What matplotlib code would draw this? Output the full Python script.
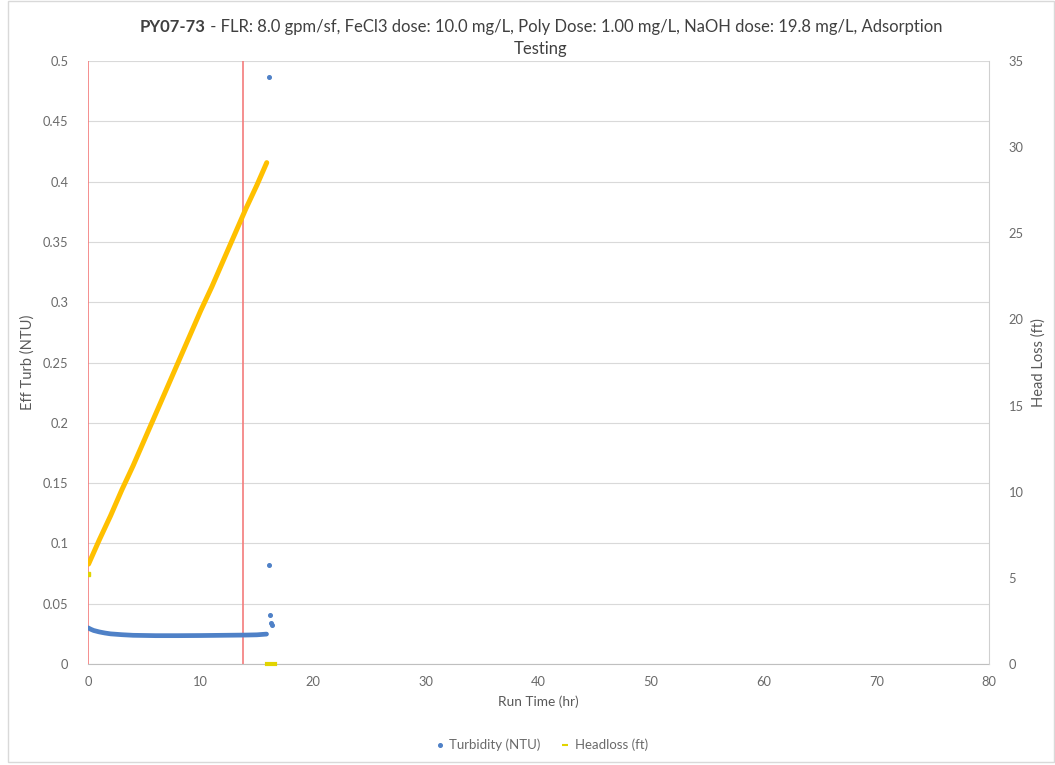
import matplotlib
matplotlib.use("Agg")
import matplotlib.pyplot as plt
from matplotlib.patches import Rectangle
from matplotlib.lines import Line2D

plt.rcParams['font.family'] = ['Lato', 'DejaVu Sans']

# Effluent turbidity during the filter run (hr, NTU)
turb_time = [0.0, 0.25, 0.5, 1.0, 1.5, 2.0, 3.0, 4.0, 6.0, 8.0, 10.0, 12.0, 14.0, 15.0, 15.85]
turb_ntu = [0.0300, 0.0288, 0.0278, 0.0266, 0.0257, 0.0250, 0.0243, 0.0238, 0.0235, 0.0235,
            0.0236, 0.0238, 0.0240, 0.0242, 0.0248]
# Isolated readings after the run ended
spike_time = [16.07, 16.1, 16.16, 16.25, 16.3]
spike_ntu = [0.487, 0.082, 0.041, 0.034, 0.032]

# Head loss during the run (hr, ft)
hl_time = [0.0, 0.05, 1.0, 2.0, 3.0, 4.0, 5.0, 6.0, 7.0, 8.0, 9.0, 10.0, 11.0, 12.0, 13.0,
           14.0, 15.0, 15.87]
hl_ft = [5.2, 5.8, 7.2, 8.6, 10.1, 11.5, 13.0, 14.5, 16.0, 17.5, 19.0, 20.5, 21.9, 23.4,
         24.9, 26.4, 27.8, 29.1]
# Head loss readings after backwash
hl_end_time = [15.85, 16.0, 16.15, 16.3, 16.45, 16.6]
hl_end_ft = [0.0, 0.0, 0.0, 0.0, 0.0, 0.0]

# Run markers (hr)
marker_times = [0.0, 13.8]

x_ticks = [0, 10, 20, 30, 40, 50, 60, 70, 80]
left_ticks = [0, 0.05, 0.1, 0.15, 0.2, 0.25, 0.3, 0.35, 0.4, 0.45, 0.5]
left_labels = ['0', '0.05', '0.1', '0.15', '0.2', '0.25', '0.3', '0.35', '0.4', '0.45', '0.5']
right_ticks = [0, 5, 10, 15, 20, 25, 30, 35]

BLUE = '#4F81C7'
GOLD = '#FFC000'
LEMON = '#E2D400'
RED = '#F47C7C'
TICK = '#6A6A6A'
LABEL = '#595959'
GRID = '#D9D9D9'

fig = plt.figure(figsize=(10.55, 7.65), dpi=100)
W, H = 1055, 765
ax = fig.add_axes([88 / W, 1 - 664 / H, (989 - 88) / W, (664 - 61) / H])
ax2 = ax.twinx()

ax.set_xlim(0, 80)
ax.set_ylim(0, 0.5)
ax2.set_ylim(0, 35)

ax.set_xticks(x_ticks)
ax.set_yticks(left_ticks)
ax.set_yticklabels(left_labels)
ax2.set_yticks(right_ticks)

for a in (ax, ax2):
    for s in a.spines.values():
        s.set_visible(False)
    a.tick_params(length=0, labelsize=9.3, colors=TICK)
ax.spines['bottom'].set_visible(True)
ax.spines['bottom'].set_color('#BFBFBF')
ax2.spines['right'].set_visible(True)
ax2.spines['right'].set_color('#D0D0D0')
ax.tick_params(axis='x', pad=9)
ax.tick_params(axis='y', pad=14)
ax2.tick_params(axis='y', pad=14)

ax.grid(axis='y', color=GRID, linewidth=0.8)
ax.set_axisbelow(True)

for t in marker_times:
    ax.axvline(t, color=RED, linewidth=1.2, zorder=4)

ax2.plot(hl_time[1:], hl_ft[1:], color=GOLD, linewidth=3.6, solid_capstyle='round', zorder=3)
ax2.plot(hl_time[:1], hl_ft[:1], linestyle='none', marker='s', markersize=2.5, color=LEMON, zorder=3)
ax2.plot(hl_end_time, hl_end_ft, color=LEMON, linewidth=3.0, zorder=3, clip_on=False)

ax.plot(turb_time, turb_ntu, color=BLUE, linewidth=3.4, solid_capstyle='round', zorder=5)
ax.plot(spike_time, spike_ntu, linestyle='none', marker='o', markersize=2.6, color=BLUE, zorder=5)

ax.set_xlabel('Run Time (hr)', fontsize=9.8, color=LABEL, labelpad=5)
ax.set_ylabel('Eff Turb (NTU)', fontsize=10.5, color=LABEL, labelpad=6)
ax2.set_ylabel('Head Loss (ft)', fontsize=10.5, color=LABEL, labelpad=6)

# Title: bold run id followed by regular description, centred over the plot
fig.canvas.draw()
renderer = fig.canvas.get_renderer()
title_color = '#404040'
t_bold = fig.text(0, 1 - 27 / H, 'PY07-73', fontsize=12, fontweight='bold', color=title_color, va='center')
t_rest = fig.text(0, 1 - 27 / H, ' - FLR: 8.0 gpm/sf, FeCl3 dose: 10.0 mg/L, Poly Dose: 1.00 mg/L, NaOH dose: 19.8 mg/L, Adsorption',
                  fontsize=12, color=title_color, va='center')
wb = t_bold.get_window_extent(renderer).width
wr = t_rest.get_window_extent(renderer).width
x0 = 541 - (wb + wr) / 2
t_bold.set_x(x0 / W)
t_rest.set_x((x0 + wb) / W)
fig.text(541 / W, 1 - 49 / H, 'Testing', fontsize=12, color=title_color, ha='center', va='center')

handles = [
    Line2D([], [], linestyle='none', marker='o', markersize=2.6, color=BLUE),
    Line2D([], [], linestyle='none', marker='_', markersize=5, markeredgewidth=1.5, color=LEMON),
]
fig.legend(handles, ['Turbidity (NTU)', 'Headloss (ft)'], loc='center', bbox_to_anchor=(541 / W, 1 - 745 / H),
           ncol=2, frameon=False, fontsize=9.5, labelcolor=TICK, handlelength=0.8, handletextpad=0.3,
           columnspacing=1.5)

fig.patches.append(Rectangle((8 / W, 3 / H), 1 - 9 / W, 1 - 4 / H, transform=fig.transFigure,
                             fill=False, edgecolor='#D9D9D9', linewidth=1.0))

fig.savefig('out.png', dpi=100, facecolor='white')
